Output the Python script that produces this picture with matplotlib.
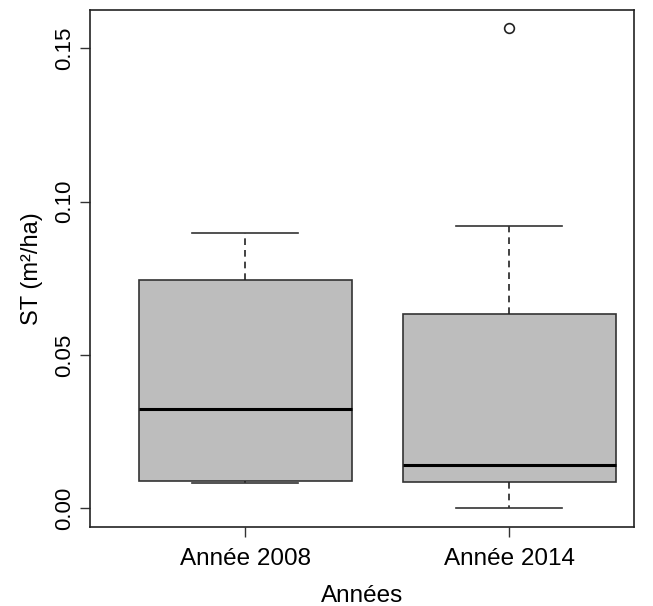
import matplotlib
matplotlib.use("Agg")
import matplotlib.pyplot as plt

plt.rcParams["font.family"] = ["Liberation Sans", "DejaVu Sans"]

# values
groups = ["Année 2008", "Année 2014"]
whislo = [0.0083, 0.0]
q1 = [0.0088, 0.0085]
med = [0.0323, 0.0140]
q3 = [0.0745, 0.0635]
whishi = [0.0897, 0.0920]
fliers = [[], [0.1565]]

stats = []
for i, g in enumerate(groups):
    stats.append(dict(label=g, whislo=whislo[i], q1=q1[i], med=med[i],
                      q3=q3[i], whishi=whishi[i], fliers=fliers[i]))

fig = plt.figure(figsize=(6.53, 6.06), dpi=100)
ax = fig.add_axes([0.138, 0.130, 0.833, 0.853])

ax.bxp(stats, positions=[1, 2], widths=0.807, patch_artist=True,
       boxprops=dict(facecolor="#bdbdbd", edgecolor="#333333", linewidth=1.2),
       medianprops=dict(color="black", linewidth=2.2),
       whiskerprops=dict(color="#222222", linewidth=1.2, linestyle=(0, (4, 3))),
       capprops=dict(color="#333333", linewidth=1.2),
       flierprops=dict(marker="o", markerfacecolor="none", markeredgecolor="#222222",
                       markersize=7, markeredgewidth=1.2))

ax.set_xlim(0.413, 2.473)
ax.set_ylim(-0.0062, 0.1624)
ax.set_yticks([0.0, 0.05, 0.10, 0.15])
ax.set_yticklabels(["0.00", "0.05", "0.10", "0.15"], rotation=90, va="center")
ax.tick_params(axis="both", length=7, width=1, color="#333333")
ax.tick_params(axis="y", labelsize=16, pad=4)
ax.tick_params(axis="x", labelsize=17.5, pad=8)
for s in ax.spines.values():
    s.set_linewidth(1.2)
    s.set_color("#222222")

ax.set_ylabel("ST (m²/ha)", fontsize=17, labelpad=8)
ax.set_xlabel("Années", fontsize=17.5, labelpad=10.5)

fig.savefig("out.png", dpi=100)
